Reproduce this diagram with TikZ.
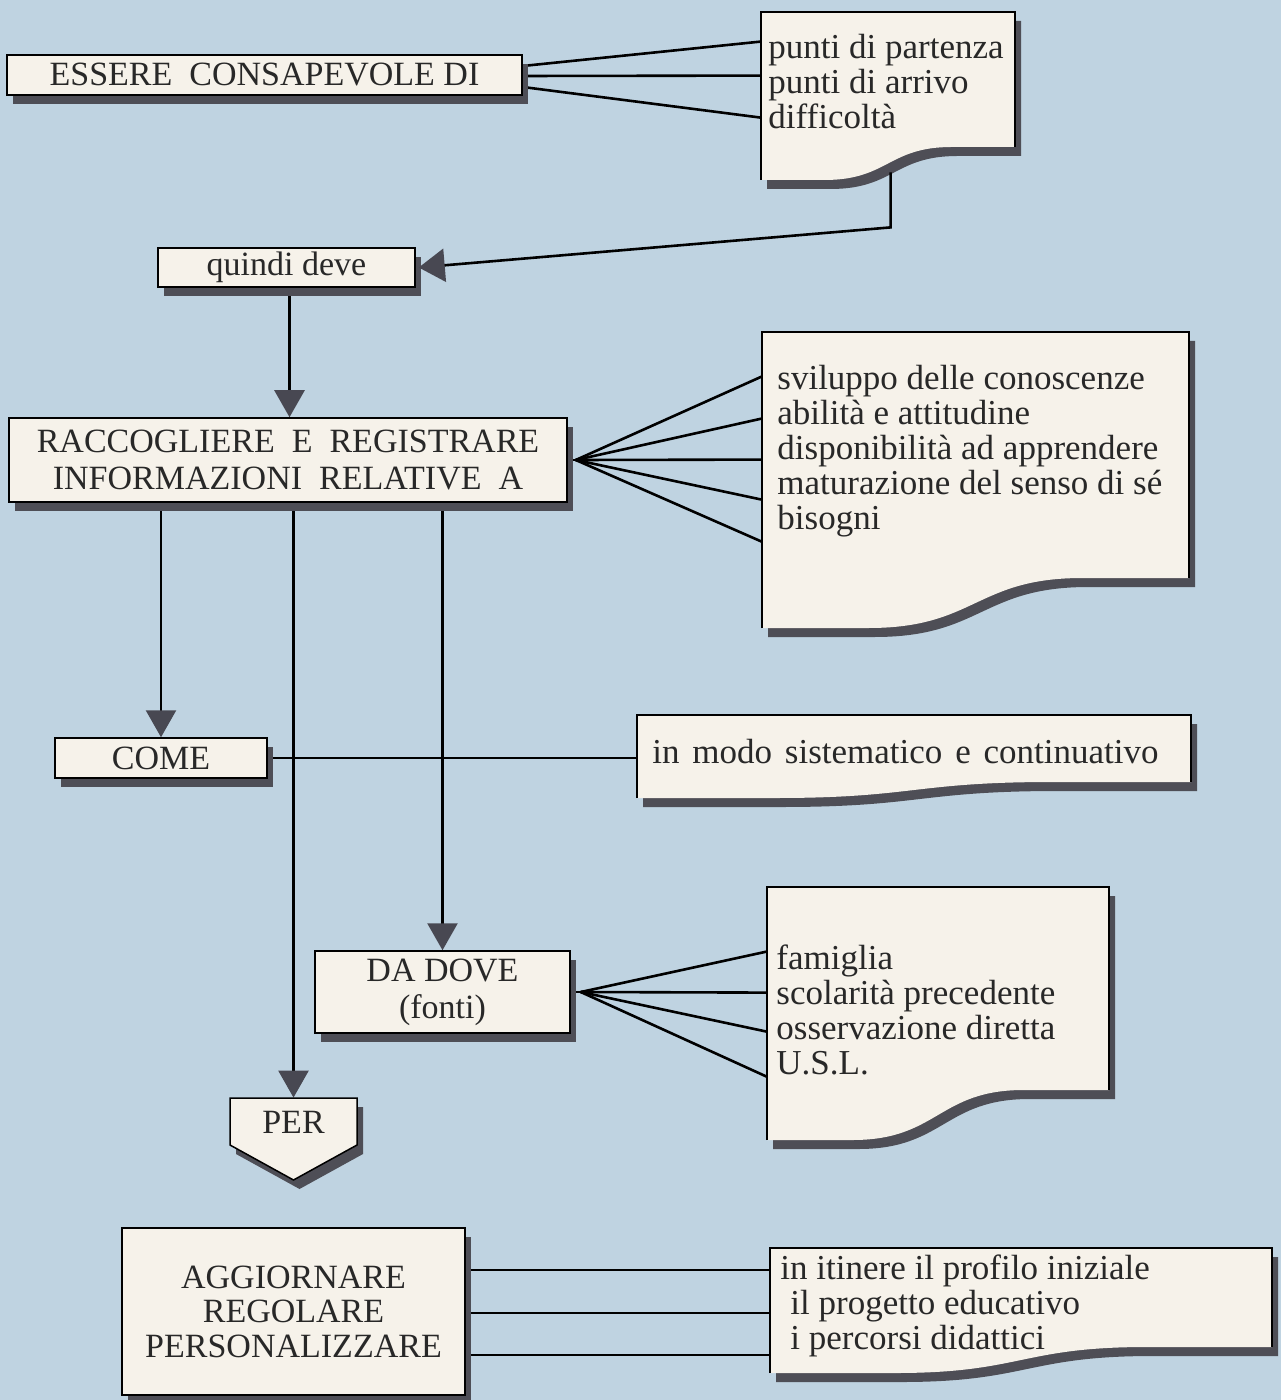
\documentclass[tikz,border=0pt]{standalone}
\usepackage{fontspec}
\setmainfont{Liberation Serif}
\usetikzlibrary{arrows.meta,calc,fit,shadows}
\definecolor{bgc}{RGB}{191,211,225}
\definecolor{cream}{RGB}{246,242,234}
\definecolor{shadowc}{RGB}{78,78,86}
\definecolor{arrowc}{RGB}{72,72,82}
\definecolor{textc}{RGB}{40,40,40}
\pgfdeclarelayer{back}
\pgfdeclarelayer{lines}
\pgfsetlayers{back,lines,main}
\tikzset{
 shad/.style={drop shadow={shadow xshift=3pt,shadow yshift=-4.5pt,opacity=1,fill=shadowc}},
 box/.style={draw=black, line width=0.75pt, fill=cream, shad, inner sep=0pt, text=textc, align=center, font=\fontsize{17}{17.5}\selectfont},
 doctext/.style={inner sep=0pt, text=textc, align=left, anchor=west, font=\fontsize{17.5}{17.5}\selectfont},
 docline/.style={draw=black, line width=0.75pt},
 conn/.style={draw=black, line width=1.3pt},
 arr/.style={conn, -{Triangle[width=15pt,length=13.5pt,color=arrowc]}},
}
\newcommand\wsp{\hspace{6.4pt}}
% name, L, T, R, Br, Bl
\newcommand\docshape[6]{%
 \pgfmathsetmacro\dsW{#4-#2}%
 \pgfmathsetmacro\dsXa{#2+0.75*\dsW}%
 \pgfmathsetmacro\dsXb{#2+0.25*\dsW}%
 \pgfmathsetmacro\dsC{#2+0.5*\dsW}%
 \fill[cream, shad] (#2,#3) -- (#4,#3) -- (#4,#5) -- (\dsXa,#5) .. controls (\dsC,#5) and (\dsC,#6) .. (\dsXb,#6) -- (#2,#6) -- cycle;
 \draw[docline] (#2,#6) -- (#2,#3) -- (#4,#3) -- (#4,#5);
 \node[fit={(#2,#3) (#4,#6)}, inner sep=0pt] (#1) {};
}
\begin{document}
\begin{tikzpicture}[x=0.5pt,y=-0.5pt]
\begin{pgfonlayer}{back}
\fill[bgc] (0,0) rectangle (1281,1400);
\end{pgfonlayer}
\path[use as bounding box] (0,0) rectangle (1281,1400);

% rectangular boxes
\node[box, minimum width=257.5pt, minimum height=20pt] (essere) at (264.5,75) {ESSERE~~CONSAPEVOLE DI};
\node[box, minimum width=128.5pt, minimum height=19.5pt] (quindi) at (286.5,267.5) {quindi~deve};
\node[box, minimum width=279pt, minimum height=42pt, font=\fontsize{17}{18.5}\selectfont] (racc) at (288,460) {RACCOGLIERE~~E~~REGISTRARE\\INFORMAZIONI~~RELATIVE~~A};
\node[box, minimum width=106pt, minimum height=20pt] (come) at (161,758) {COME};
\node[box, minimum width=127.5pt, minimum height=41pt, font=\fontsize{17}{18.5}\selectfont] (dadove) at (442.5,992) {DA DOVE\\(fonti)};
\node[box, minimum width=171.5pt, minimum height=83.5pt, font=\fontsize{17}{17.25}\selectfont] (aggiorn) at (293.5,1311.5) {AGGIORNARE\\REGOLARE\\PERSONALIZZARE};

% document shapes
\docshape{punti}{761}{12}{1015}{147}{180}
\node[doctext] (puntiT) at (768,81.5) {punti di partenza\\punti di arrivo\\difficoltà};
\docshape{svil}{762}{332}{1189}{578}{628}
\node[doctext] (svilT) at (777,451.5) {sviluppo delle conoscenze\\abilità e attitudine\\disponibilità ad apprendere\\maturazione del senso di sé\\bisogni};
\docshape{inmodo}{637}{715}{1191}{782}{798}
\node[doctext] (inmodoT) at (652,752) {in\wsp modo\wsp sistematico\wsp e\wsp continuativo};
\docshape{famiglia}{767}{887}{1109}{1090}{1140}
\node[doctext] (famigliaT) at (776,1010) {famiglia\\scolarità precedente\\osservazione diretta\\U.S.L.};
\docshape{itin}{770}{1248}{1272}{1347}{1373}
\node[doctext] (itinT) at (780,1306) {in itinere il profilo iniziale\\\hspace*{5pt}il progetto educativo\\\hspace*{5pt}i percorsi didattici};

% PER pentagon
\fill[cream, shad] (230,1098) -- (357,1098) -- (357,1145) -- (293.5,1180) -- (230,1145) -- cycle;
\draw[docline] (230,1098) -- (357,1098) -- (357,1145) -- (293.5,1180) -- (230,1145) -- cycle;
\node[fit={(230,1098) (357,1180)}, inner sep=0pt] (per) {};
\node[text=textc, font=\fontsize{17}{17.5}\selectfont, inner sep=0pt] (perT) at (293.5,1122) {PER};

% helper coordinates
\coordinate (qs) at ($(quindi.south)+(3,0)$);
\coordinate (rfan) at ($(racc.east)+(8,0)$);
\coordinate (dfan) at ($(dadove.east)+(10,0)$);
\coordinate (qbend) at ($(punti.south west)+(130,47)$);
\coordinate (ag1) at ($(aggiorn.east)+(0,-41.5)$);
\coordinate (ag2) at ($(aggiorn.east)+(0,1.5)$);
\coordinate (ag3) at ($(aggiorn.east)+(0,43.5)$);

\begin{pgfonlayer}{lines}
% essere -> punti
\draw[conn] ($(essere.east)+(0,-9)$) -- ($(punti.north west)+(0,30)$);
\draw[conn] ($(essere.east)+(0,1)$) -- ($(punti.north west)+(0,64)$);
\draw[conn] ($(essere.east)+(0,12)$) -- ($(punti.north west)+(0,106)$);
% quindi -> racc
\draw[arr] (qs) -- (qs |- racc.north);
% racc fan -> svil
\draw[conn] (racc.east) -- (rfan);
\foreach \dy in {45,87,128,168,210}{
 \draw[conn] (rfan) -- ($(svil.north west)+(0,\dy)$);
}
% racc -> come, per, dadove
\draw[arr] (racc.south -| come.north) -- (come.north);
\draw[arr] (racc.south -| per.north) -- (per.north);
\draw[arr] (racc.south -| dadove.north) -- (dadove.north);
% come -> inmodo
\draw[conn] (come.east) -- (come.east -| inmodo.west);
% dadove fan -> famiglia
\draw[conn] (dadove.east) -- (dfan);
\foreach \dy in {65,106,145,190}{
 \draw[conn] (dfan) -- ($(famiglia.north west)+(0,\dy)$);
}
% aggiorn -> itin
\draw[conn] (ag1) -- (ag1 -| itin.west);
\draw[conn] (ag2) -- (ag2 -| itin.west);
\draw[conn] (ag3) -- (ag3 -| itin.west);
\end{pgfonlayer}

% punti -> quindi
\draw[conn, -{Triangle[width=16.5pt,length=13pt,color=arrowc]}] ($(punti.south west)+(130,-8)$) -- (qbend) -- ($(quindi.east)+(3,0)$);
\end{tikzpicture}
\end{document}
